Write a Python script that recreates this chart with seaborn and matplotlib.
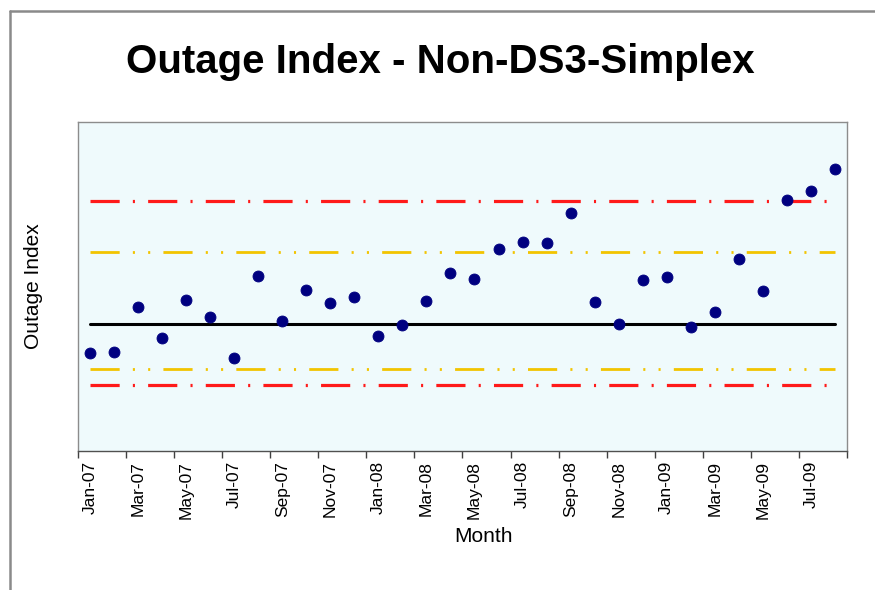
import numpy as np
import pandas as pd
import seaborn as sns
import matplotlib.pyplot as plt
from matplotlib.lines import Line2D

# Monthly outage index, Jan-07 .. Aug-09
months = pd.date_range("2007-01-01", periods=32, freq="MS").strftime("%b-%y").tolist()
outage_index = [2.98, 3.02, 4.39, 3.43, 4.58, 4.08, 2.82, 5.33, 3.95, 4.89, 4.49, 4.69,
                3.50, 3.83, 4.56, 5.40, 5.23, 6.13, 6.36, 6.31, 7.22, 4.53, 3.87, 5.19,
                5.30, 3.78, 4.23, 5.83, 4.86, 7.63, 7.90, 8.57]

# control limits
center_line = 3.86
upper_control = 7.61
upper_warning = 6.06
lower_warning = 2.49
lower_control = 2.00

df = pd.DataFrame({"pos": np.arange(len(months)), "month": months, "index": outage_index})

sns.set_theme(style="white")
plt.rcParams["font.family"] = ["Liberation Sans", "DejaVu Sans"]
plt.rcParams["lines.scale_dashes"] = False
plt.rcParams["text.color"] = "black"
plt.rcParams["axes.labelcolor"] = "black"
plt.rcParams["xtick.color"] = "black"

fig = plt.figure(figsize=(8.75, 5.9), dpi=100)
ax = fig.add_axes([0.0891, 0.2356, 0.8789, 0.5576])
ax.set_facecolor("#EFFAFC")

red_style = (0, (21, 9.5, 1.5, 9.5))
yellow_style = (0, (21, 9.5, 1.5, 9.5, 1.5, 9.5))

limits = [
    (upper_control, "#FF1A1A", red_style, 2.3),
    (upper_warning, "#F2C400", yellow_style, 2.0),
    (lower_warning, "#F2C400", yellow_style, 2.0),
    (lower_control, "#FF1A1A", red_style, 2.3),
]
for level, col, ls, lw in limits:
    sns.lineplot(x=df["pos"], y=[level] * len(df), color=col, linewidth=lw,
                 linestyle=ls, ax=ax, zorder=2)
sns.lineplot(x=df["pos"], y=[center_line] * len(df), color="black", linewidth=2.2,
             ax=ax, zorder=2)

sns.scatterplot(data=df, x="pos", y="index", color="#000080", edgecolor="#000080",
                s=62, ax=ax, zorder=3)

ax.set_xlim(-0.5, len(months) - 0.5)
ax.set_ylim(0, 10)
ax.set_yticks([])

ax.set_xticks(df["pos"][::2])
ax.set_xticklabels(df["month"][::2], rotation=90, fontsize=12.5)
ax.set_xticks(np.arange(-0.5, len(months), 2), minor=True)
ax.tick_params(axis="x", which="major", length=0, pad=7)
ax.tick_params(axis="x", which="minor", length=5, width=1, color="#404040",
               direction="out", bottom=True)

for side in ["top", "left", "right"]:
    ax.spines[side].set_color("#8C8C8C")
    ax.spines[side].set_linewidth(1)
ax.spines["bottom"].set_color("#505050")
ax.spines["bottom"].set_linewidth(1)

ax.set_xlabel("Month", fontsize=15)
ax.xaxis.set_label_coords(0.527, -0.23)
ax.set_ylabel("Outage Index", fontsize=15)
ax.yaxis.set_label_coords(-0.046, 0.5)

fig.text(0.503, 0.895, "Outage Index - Non-DS3-Simplex", fontsize=29,
         fontweight="bold", ha="center", va="center")

# outer frame of the original picture (left and top edges only)
fig.add_artist(Line2D([0.0114, 0.0114], [0, 0.981], color="#8A8A8A", linewidth=1.8))
fig.add_artist(Line2D([0.0114, 1.0], [0.981, 0.981], color="#8A8A8A", linewidth=1.8))

fig.savefig("out.png", dpi=100, facecolor="white")
